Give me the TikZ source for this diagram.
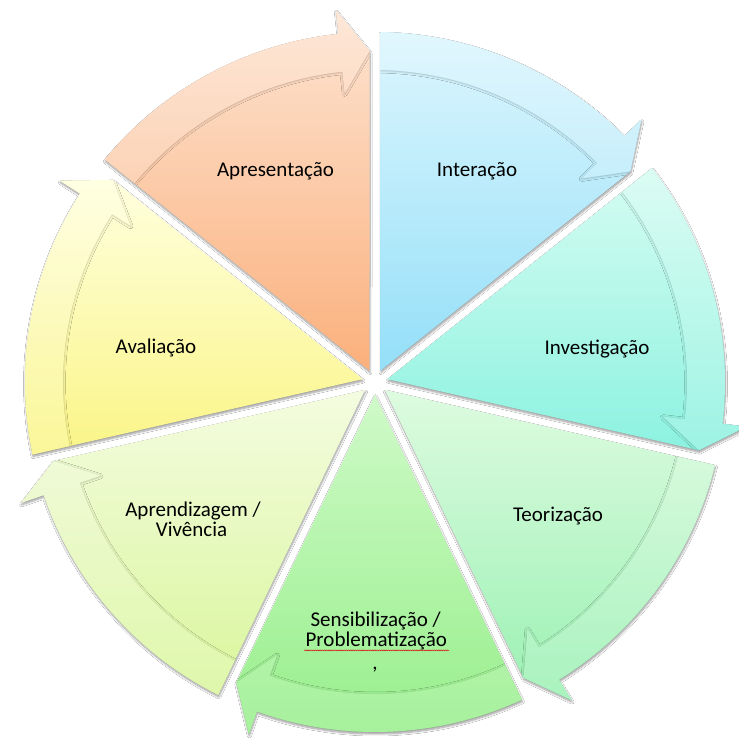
\documentclass[tikz,border=0pt]{standalone}
\usepackage{fontspec}
\setmainfont{Carlito}
\usetikzlibrary{shadows.blur,decorations.pathmorphing}

% segment colours: light (top) and saturated (bottom) end of each gradient
\definecolor{apT}{HTML}{FDE4D2}\definecolor{apB}{HTML}{FBB07C}
\definecolor{inT}{HTML}{DCF6FE}\definecolor{inB}{HTML}{94DFF8}
\definecolor{ivT}{HTML}{D6FCF2}\definecolor{ivB}{HTML}{8CF2E0}
\definecolor{teT}{HTML}{DEFBE0}\definecolor{teB}{HTML}{9AF1B3}
\definecolor{seT}{HTML}{CFFAC8}\definecolor{seB}{HTML}{96EE8A}
\definecolor{arT}{HTML}{F4FCE0}\definecolor{arB}{HTML}{D9F69C}
\definecolor{avT}{HTML}{FFFFDE}\definecolor{avB}{HTML}{FAF587}

\tikzset{
  segshadow/.style={blur shadow={shadow xshift=0.5pt, shadow yshift=-2pt,
      shadow blur radius=2pt, shadow blur steps=8, shadow opacity=40}},
  bandshadow/.style={blur shadow={shadow xshift=0pt, shadow yshift=-0.5pt,
      shadow blur radius=2.5pt, shadow blur steps=6, shadow opacity=24}},
  lbl/.style={inner sep=0pt, anchor=base, text=black,
      font=\fontsize{21}{24}\selectfont},
}

% One wedge of the cycle: #1 start angle (it runs clockwise over 360/7 degrees),
% #2 / #3 gradient colours.  The outer rim is a curved arrow ending in a head.
\newcommand\cycseg[3]{%
  \pgfmathsetmacro\sAo{#1-0.9}%
  \pgfmathsetmacro\sAi{#1-1.01}%
  \pgfmathsetmacro\mA{#1-180/7}%
  \pgfmathsetmacro\eA{#1-360/7}%
  \pgfmathsetmacro\tA{\eA+0.95}%
  \pgfmathsetmacro\bA{\eA+6}%
  \def\unionpath{(\mA:12.7) -- (\sAo:350) arc[start angle=\sAo, end angle=\bA, radius=350pt]
      -- (\bA:374) -- (\tA:331) -- cycle}%
  \def\bandpath{(\sAo:350) arc[start angle=\sAo, end angle=\bA, radius=350pt]
      -- (\bA:374) -- (\tA:331) -- (\bA:290) -- (\bA:312)
      arc[start angle=\bA, end angle=\sAi, radius=312pt] -- cycle}%
  \path[segshadow, top color=#2, bottom color=#3] \unionpath;
  \begin{scope}
    \clip \unionpath;
    \path[bandshadow] \bandpath;
  \end{scope}
  \begin{scope}
    \clip \bandpath;
    \path[top color=#2, bottom color=#3] \unionpath;
    \fill[white, opacity=0.15] \unionpath;
  \end{scope}%
}

\begin{document}
\begin{tikzpicture}[x=1pt, y=1pt]
  \fill[white] (0,0) rectangle (739,740);
  \useasboundingbox (0,0) rectangle (739,740);

  \begin{scope}[shift={(375,358)}]
    \pgfmathsetmacro\seg{360/7}
    \cycseg{90+\seg}{apT}{apB}
    \cycseg{90}{inT}{inB}
    \cycseg{90-\seg}{ivT}{ivB}
    \cycseg{90-2*\seg}{teT}{teB}
    \cycseg{90-3*\seg}{seT}{seB}
    \cycseg{90-4*\seg}{arT}{arB}
    \cycseg{90-5*\seg}{avT}{avB}
  \end{scope}

  % labels
  \node[lbl] (apres) at (275.5,563.5) {Apresentação};
  \node[lbl] (inter) at (477,563.5) {Interação};
  \node[lbl] (invest) at (597,385.5) {Investigação};
  \node[lbl] (teor) at (558,218.3) {Teorização};
  \node[lbl] (sensA) at (375.7,113.3) {Sensibilização /};
  \node[lbl] (sensB) at (376.3,93.3) {Problematização};
  \node[lbl] (sensC) at (375,70) {,};
  \node[lbl] (aprA) at (193,223.3) {Aprendizagem /};
  \node[lbl] (aprB) at (191.5,203.3) {Vivência};
  \node[lbl] (aval) at (156,386.5) {Avaliação};

  % spelling squiggle under the long word
  \coordinate (sqA) at (304,89.6);
  \coordinate (sqB) at (449,89.6);
  \draw[red!85!black, line width=0.45pt, decorate,
        decoration={snake, amplitude=0.5pt, segment length=2.2pt}] (sqA) -- (sqB);
\end{tikzpicture}
\end{document}
